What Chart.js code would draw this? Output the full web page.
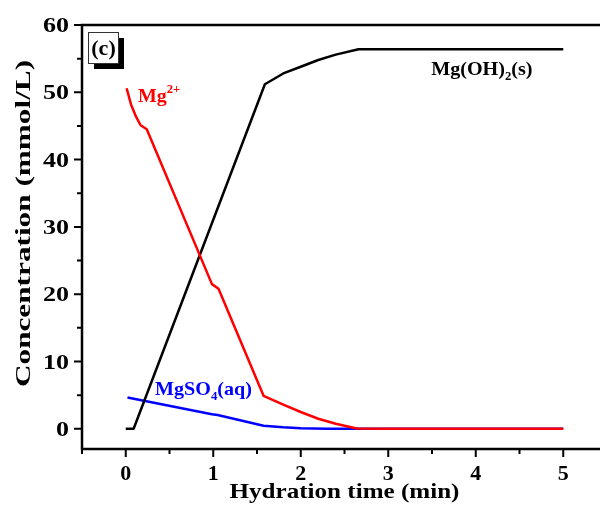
<!DOCTYPE html>
<html>
<head>
<meta charset="utf-8">
<script src="https://cdn.jsdelivr.net/npm/chart.js@4/dist/chart.umd.min.js"></script>
<style>
    html, body { margin: 0; padding: 0; background: #fff; overflow: hidden; }
    #concChart { display: block; }
</style>
</head>
<body>
<canvas id="concChart" width="612" height="511"></canvas>
<script>
// Hydration time (min) and concentration (mmol/L) for each species
const mgIonTime = [0.01, 0.06, 0.12, 0.17, 0.24, 0.985, 1.06, 1.575, 1.8, 2.0, 2.2, 2.4, 2.64, 3.0, 4.0, 5.0];
const mgIonConc = [50.6, 48.2, 46.3, 45.1, 44.5, 21.5, 20.8, 4.9, 3.6, 2.5, 1.5, 0.75, 0.05, 0, 0, 0];

const mgOHTime = [0.0, 0.09, 1.59, 1.8, 2.0, 2.2, 2.4, 2.66, 3.0, 4.0, 5.0];
const mgOHConc = [0, 0, 51.2, 52.8, 53.8, 54.8, 55.6, 56.4, 56.4, 56.4, 56.4];

const mgSO4Time = [0.02, 0.985, 1.05, 1.575, 1.8, 2.0, 2.3, 3.0, 4.0, 5.0];
const mgSO4Conc = [4.66, 2.15, 2.05, 0.45, 0.22, 0.1, 0.02, 0, 0, 0];

const xTicks = [0, 1, 2, 3, 4, 5];
const xMinorTicks = [-0.5, 0.5, 1.5, 2.5, 3.5, 4.5];
const yTicks = [0, 10, 20, 30, 40, 50, 60];
const yMinorTicks = [5, 15, 25, 35, 45, 55];

const FONT = '"Liberation Serif", "Times New Roman", serif';

function toPoints(xs, ys) {
    return xs.map((x, i) => ({ x: x, y: ys[i] }));
}

// text runs with optional sub/superscript, left aligned at baseline, widened by sx
function drawRich(ctx, parts, x, y, size, color, sx) {
    ctx.save();
    ctx.translate(x, y);
    ctx.scale(sx, 1);
    ctx.fillStyle = color;
    ctx.textBaseline = 'alphabetic';
    ctx.textAlign = 'left';
    let cx = 0;
    parts.forEach(p => {
        let s = size, dy = 0;
        if (p.sup) { s = size * 0.62; dy = -size * 0.48; }
        if (p.sub) { s = size * 0.62; dy = size * 0.28; }
        ctx.font = 'bold ' + Math.round(s) + 'px ' + FONT;
        ctx.fillText(p.t, cx, dy);
        cx += ctx.measureText(p.t).width;
    });
    ctx.restore();
}

function drawText(ctx, text, x, y, size, align, sx, angle) {
    ctx.save();
    ctx.translate(x, y);
    if (angle) ctx.rotate(angle);
    ctx.scale(sx, 1);
    ctx.fillStyle = '#000';
    ctx.font = 'bold ' + size + 'px ' + FONT;
    ctx.textAlign = align;
    ctx.textBaseline = 'alphabetic';
    ctx.fillText(text, 0, 0);
    ctx.restore();
}

const framePlugin = {
    id: 'frame',
    afterDraw(chart) {
        const ctx = chart.ctx;
        const a = chart.chartArea;
        const xs = chart.scales.x, ys = chart.scales.y;
        ctx.save();
        ctx.strokeStyle = '#000';
        ctx.lineWidth = 2.5;
        ctx.lineCap = 'square';
        ctx.beginPath();
        ctx.moveTo(a.left, a.top); ctx.lineTo(a.right, a.top);
        ctx.moveTo(a.left, a.top); ctx.lineTo(a.left, a.bottom);
        ctx.moveTo(a.left, a.bottom); ctx.lineTo(a.right, a.bottom);
        ctx.moveTo(a.right, a.top); ctx.lineTo(a.right, a.bottom);
        ctx.stroke();

        ctx.lineWidth = 2;
        ctx.lineCap = 'butt';
        ctx.beginPath();
        xTicks.forEach(v => {
            const px = xs.getPixelForValue(v);
            ctx.moveTo(px, a.bottom); ctx.lineTo(px, a.bottom + 8);
        });
        xMinorTicks.forEach(v => {
            const px = xs.getPixelForValue(v);
            ctx.moveTo(px, a.bottom); ctx.lineTo(px, a.bottom + 5);
        });
        yTicks.forEach(v => {
            const py = ys.getPixelForValue(v);
            ctx.moveTo(a.left, py); ctx.lineTo(a.left - 8, py);
        });
        yMinorTicks.forEach(v => {
            const py = ys.getPixelForValue(v);
            ctx.moveTo(a.left, py); ctx.lineTo(a.left - 5, py);
        });
        ctx.stroke();

        // tick labels
        xTicks.forEach(v => {
            drawText(ctx, String(v), xs.getPixelForValue(v), a.bottom + 31, 22, 'center', 1);
        });
        yTicks.forEach(v => {
            drawText(ctx, String(v), a.left - 13, ys.getPixelForValue(v) + 7, 20, 'right', 1.3);
        });

        // axis titles
        drawText(ctx, 'Hydration time (min)', (a.left + a.right) / 2, a.bottom + 49, 22, 'center', 1.14);
        drawText(ctx, 'Concentration (mmol/L)', 30, 223.5, 22, 'center', 1.42, -Math.PI / 2);

        // panel tag with drop shadow
        const bx = a.left + 6, by = a.top + 7, bw = 30, bh = 31;
        ctx.fillStyle = '#000';
        ctx.fillRect(bx + 6, by + 6, bw, bh);
        ctx.fillStyle = '#fff';
        ctx.fillRect(bx, by, bw, bh);
        ctx.lineWidth = 1;
        ctx.strokeStyle = '#333';
        ctx.strokeRect(bx + 0.5, by + 0.5, bw, bh);
        ctx.restore();
        drawText(ctx, '(c)', bx + bw / 2 + 0.5, by + 23, 20, 'center', 1.1);

        // species labels
        drawRich(ctx, [{ t: 'Mg' }, { t: '2+', sup: true }],
            xs.getPixelForValue(0.14), ys.getPixelForValue(48.6), 19, '#ff0000', 1.05);
        drawRich(ctx, [{ t: 'Mg(OH)' }, { t: '2', sub: true }, { t: '(s)' }],
            xs.getPixelForValue(3.49), ys.getPixelForValue(52.6), 19, '#000', 1.06);
        drawRich(ctx, [{ t: 'MgSO' }, { t: '4', sub: true }, { t: '(aq)' }],
            xs.getPixelForValue(0.334), ys.getPixelForValue(5.0), 19, '#0000ff', 1.06);
    }
};

function buildChart() {
    const ctx = document.getElementById('concChart').getContext('2d');
    return new Chart(ctx, {
        type: 'line',
        data: {
            datasets: [{
                label: 'Mg2+',
                data: toPoints(mgIonTime, mgIonConc),
                borderColor: '#ff0000',
                borderWidth: 2.5
            }, {
                label: 'Mg(OH)2(s)',
                data: toPoints(mgOHTime, mgOHConc),
                borderColor: '#000000',
                borderWidth: 2.5
            }, {
                label: 'MgSO4(aq)',
                data: toPoints(mgSO4Time, mgSO4Conc),
                borderColor: '#0000ff',
                borderWidth: 2.5
            }]
        },
        options: {
            responsive: false,
            animation: false,
            events: [],
            elements: {
                point: { radius: 0 },
                line: { tension: 0, borderJoinStyle: 'round' }
            },
            layout: { padding: { top: 25, right: 5, left: 0, bottom: 0 } },
            plugins: {
                legend: { display: false },
                tooltip: { enabled: false }
            },
            scales: {
                x: {
                    type: 'linear',
                    min: -0.5,
                    max: 5.5,
                    grid: { display: false, drawTicks: false },
                    border: { display: false },
                    afterBuildTicks: scale => { scale.ticks = xTicks.map(v => ({ value: v })); },
                    afterFit: scale => { scale.height = 62; },
                    ticks: { display: false }
                },
                y: {
                    min: -3,
                    max: 60,
                    grid: { display: false, drawTicks: false },
                    border: { display: false },
                    afterBuildTicks: scale => { scale.ticks = yTicks.map(v => ({ value: v })); },
                    afterFit: scale => { scale.width = 82; },
                    ticks: { display: false }
                }
            }
        },
        plugins: [framePlugin]
    });
}

// make sure the serif face is ready before the canvas text is painted
document.fonts.load('bold 20px "Liberation Serif"').then(buildChart, buildChart);
</script>
</body>
</html>
